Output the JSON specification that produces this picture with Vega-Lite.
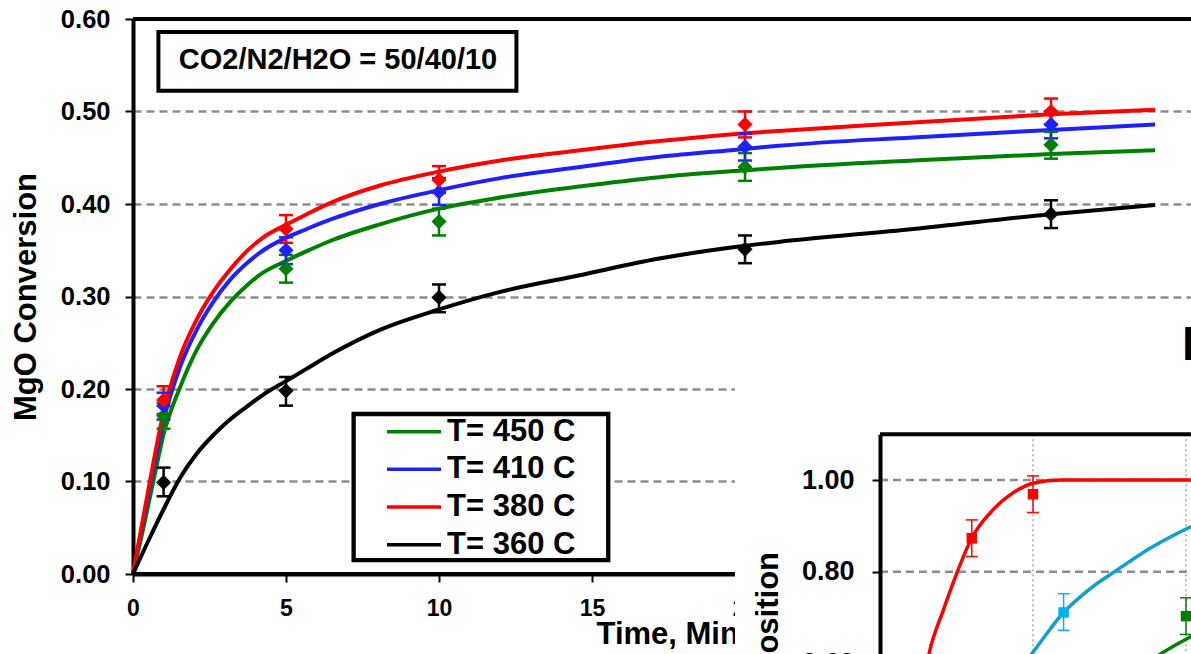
{
  "$schema": "https://vega.github.io/schema/vega-lite/v6.json",
  "width": 1058,
  "height": 555,
  "autosize": {"type": "none"},
  "padding": {"left": 133, "top": 19, "right": 0, "bottom": 80},
  "background": "white",
  "config": {
    "view": {"stroke": null},
    "font": "Liberation Sans",
    "axis": {"grid": false, "labelFont": "Liberation Sans", "labelFontWeight": "bold", "labelColor": "black", "titleFont": "Liberation Sans", "titleFontWeight": "bold", "titleColor": "black", "domainColor": "black", "tickColor": "black"},
    "text": {"font": "Liberation Sans"}
  },
  "datasets": {
    "curves": [
      {"s": "T= 450 C", "t": 0, "v": 0}, {"s": "T= 450 C", "t": 0.34, "v": 0.05}, {"s": "T= 450 C", "t": 0.67, "v": 0.101}, {"s": "T= 450 C", "t": 1.0, "v": 0.151}, {"s": "T= 450 C", "t": 1.54, "v": 0.202}, {"s": "T= 450 C", "t": 2.08, "v": 0.242}, {"s": "T= 450 C", "t": 2.62, "v": 0.271}, {"s": "T= 450 C", "t": 3.17, "v": 0.294}, {"s": "T= 450 C", "t": 3.72, "v": 0.312}, {"s": "T= 450 C", "t": 4.26, "v": 0.326}, {"s": "T= 450 C", "t": 4.97, "v": 0.338}, {"s": "T= 450 C", "t": 5.68, "v": 0.349}, {"s": "T= 450 C", "t": 6.44, "v": 0.36}, {"s": "T= 450 C", "t": 8.07, "v": 0.378}, {"s": "T= 450 C", "t": 10, "v": 0.395}, {"s": "T= 450 C", "t": 12, "v": 0.407}, {"s": "T= 450 C", "t": 14.6, "v": 0.419}, {"s": "T= 450 C", "t": 17.2, "v": 0.429}, {"s": "T= 450 C", "t": 19.8, "v": 0.436}, {"s": "T= 450 C", "t": 21.1, "v": 0.439}, {"s": "T= 450 C", "t": 25.5, "v": 0.447}, {"s": "T= 450 C", "t": 30, "v": 0.454}, {"s": "T= 450 C", "t": 33.4, "v": 0.458},
      {"s": "T= 410 C", "t": 0, "v": 0}, {"s": "T= 410 C", "t": 0.34, "v": 0.058}, {"s": "T= 410 C", "t": 0.67, "v": 0.114}, {"s": "T= 410 C", "t": 1.0, "v": 0.166}, {"s": "T= 410 C", "t": 1.54, "v": 0.224}, {"s": "T= 410 C", "t": 2.08, "v": 0.264}, {"s": "T= 410 C", "t": 2.62, "v": 0.294}, {"s": "T= 410 C", "t": 3.17, "v": 0.318}, {"s": "T= 410 C", "t": 3.72, "v": 0.336}, {"s": "T= 410 C", "t": 4.26, "v": 0.35}, {"s": "T= 410 C", "t": 4.97, "v": 0.363}, {"s": "T= 410 C", "t": 5.68, "v": 0.373}, {"s": "T= 410 C", "t": 6.44, "v": 0.383}, {"s": "T= 410 C", "t": 8.07, "v": 0.4}, {"s": "T= 410 C", "t": 10, "v": 0.415}, {"s": "T= 410 C", "t": 12, "v": 0.428}, {"s": "T= 410 C", "t": 14.6, "v": 0.44}, {"s": "T= 410 C", "t": 17.2, "v": 0.451}, {"s": "T= 410 C", "t": 19.8, "v": 0.459}, {"s": "T= 410 C", "t": 21.1, "v": 0.463}, {"s": "T= 410 C", "t": 25.5, "v": 0.472}, {"s": "T= 410 C", "t": 30, "v": 0.48}, {"s": "T= 410 C", "t": 33.4, "v": 0.486},
      {"s": "T= 380 C", "t": 0, "v": 0}, {"s": "T= 380 C", "t": 0.34, "v": 0.062}, {"s": "T= 380 C", "t": 0.67, "v": 0.121}, {"s": "T= 380 C", "t": 1.0, "v": 0.175}, {"s": "T= 380 C", "t": 1.54, "v": 0.235}, {"s": "T= 380 C", "t": 2.08, "v": 0.275}, {"s": "T= 380 C", "t": 2.62, "v": 0.305}, {"s": "T= 380 C", "t": 3.17, "v": 0.329}, {"s": "T= 380 C", "t": 3.72, "v": 0.349}, {"s": "T= 380 C", "t": 4.26, "v": 0.364}, {"s": "T= 380 C", "t": 4.97, "v": 0.377}, {"s": "T= 380 C", "t": 5.68, "v": 0.389}, {"s": "T= 380 C", "t": 6.44, "v": 0.401}, {"s": "T= 380 C", "t": 8.07, "v": 0.42}, {"s": "T= 380 C", "t": 10, "v": 0.435}, {"s": "T= 380 C", "t": 12, "v": 0.447}, {"s": "T= 380 C", "t": 14.6, "v": 0.458}, {"s": "T= 380 C", "t": 17.2, "v": 0.468}, {"s": "T= 380 C", "t": 19.8, "v": 0.476}, {"s": "T= 380 C", "t": 21.1, "v": 0.479}, {"s": "T= 380 C", "t": 25.5, "v": 0.488}, {"s": "T= 380 C", "t": 30, "v": 0.497}, {"s": "T= 380 C", "t": 33.4, "v": 0.502},
      {"s": "T= 360 C", "t": 0, "v": 0}, {"s": "T= 360 C", "t": 0.56, "v": 0.04}, {"s": "T= 360 C", "t": 1.0, "v": 0.07}, {"s": "T= 360 C", "t": 1.54, "v": 0.104}, {"s": "T= 360 C", "t": 2.08, "v": 0.13}, {"s": "T= 360 C", "t": 2.62, "v": 0.15}, {"s": "T= 360 C", "t": 3.17, "v": 0.167}, {"s": "T= 360 C", "t": 3.72, "v": 0.181}, {"s": "T= 360 C", "t": 4.26, "v": 0.194}, {"s": "T= 360 C", "t": 4.97, "v": 0.208}, {"s": "T= 360 C", "t": 5.68, "v": 0.222}, {"s": "T= 360 C", "t": 6.44, "v": 0.237}, {"s": "T= 360 C", "t": 8.07, "v": 0.264}, {"s": "T= 360 C", "t": 10, "v": 0.286}, {"s": "T= 360 C", "t": 12, "v": 0.305}, {"s": "T= 360 C", "t": 14.6, "v": 0.323}, {"s": "T= 360 C", "t": 17.2, "v": 0.341}, {"s": "T= 360 C", "t": 19.8, "v": 0.354}, {"s": "T= 360 C", "t": 21.1, "v": 0.359}, {"s": "T= 360 C", "t": 25.5, "v": 0.373}, {"s": "T= 360 C", "t": 30, "v": 0.389}, {"s": "T= 360 C", "t": 33.4, "v": 0.399}
    ],
    "pts": [
      {"s": "T= 450 C", "t": 1, "v": 0.171, "lo": 0.157, "hi": 0.185}, {"s": "T= 450 C", "t": 5, "v": 0.33, "lo": 0.315, "hi": 0.345}, {"s": "T= 450 C", "t": 10, "v": 0.381, "lo": 0.366, "hi": 0.395}, {"s": "T= 450 C", "t": 20, "v": 0.44, "lo": 0.425, "hi": 0.455}, {"s": "T= 450 C", "t": 30, "v": 0.464, "lo": 0.449, "hi": 0.478},
      {"s": "T= 410 C", "t": 1, "v": 0.182, "lo": 0.167, "hi": 0.196}, {"s": "T= 410 C", "t": 5, "v": 0.35, "lo": 0.335, "hi": 0.364}, {"s": "T= 410 C", "t": 10, "v": 0.413, "lo": 0.399, "hi": 0.428}, {"s": "T= 410 C", "t": 20, "v": 0.462, "lo": 0.447, "hi": 0.476}, {"s": "T= 410 C", "t": 30, "v": 0.486, "lo": 0.471, "hi": 0.5},
      {"s": "T= 380 C", "t": 1, "v": 0.188, "lo": 0.173, "hi": 0.203}, {"s": "T= 380 C", "t": 5, "v": 0.373, "lo": 0.358, "hi": 0.388}, {"s": "T= 380 C", "t": 10, "v": 0.426, "lo": 0.412, "hi": 0.441}, {"s": "T= 380 C", "t": 20, "v": 0.486, "lo": 0.472, "hi": 0.5}, {"s": "T= 380 C", "t": 30, "v": 0.5, "lo": 0.486, "hi": 0.514},
      {"s": "T= 360 C", "t": 1, "v": 0.099, "lo": 0.084, "hi": 0.115}, {"s": "T= 360 C", "t": 5, "v": 0.198, "lo": 0.182, "hi": 0.213}, {"s": "T= 360 C", "t": 10, "v": 0.299, "lo": 0.283, "hi": 0.313}, {"s": "T= 360 C", "t": 20, "v": 0.351, "lo": 0.336, "hi": 0.366}, {"s": "T= 360 C", "t": 30, "v": 0.389, "lo": 0.374, "hi": 0.404}
    ],
    "icurves": [
      {"s": "a", "u": 0.28, "v": 0.55}, {"s": "a", "u": 0.32, "v": 0.62}, {"s": "a", "u": 0.414, "v": 0.716}, {"s": "a", "u": 0.501, "v": 0.796}, {"s": "a", "u": 0.599, "v": 0.873}, {"s": "a", "u": 0.719, "v": 0.928}, {"s": "a", "u": 0.869, "v": 0.972}, {"s": "a", "u": 1.0, "v": 0.993}, {"s": "a", "u": 1.18, "v": 1.0}, {"s": "a", "u": 2.1, "v": 1.0}, {"s": "a", "u": 3.0, "v": 1.0},
      {"s": "b", "u": 0.85, "v": 0.56}, {"s": "b", "u": 0.99, "v": 0.62}, {"s": "b", "u": 1.2, "v": 0.711}, {"s": "b", "u": 1.37, "v": 0.762}, {"s": "b", "u": 1.547, "v": 0.803}, {"s": "b", "u": 1.765, "v": 0.851}, {"s": "b", "u": 2.03, "v": 0.898}, {"s": "b", "u": 2.1, "v": 0.909},
      {"s": "c", "u": 1.6, "v": 0.57}, {"s": "c", "u": 1.83, "v": 0.62}, {"s": "c", "u": 2.03, "v": 0.658}, {"s": "c", "u": 2.1, "v": 0.67}
    ],
    "ipts": [
      {"s": "a", "u": 0.6, "v": 0.873, "lo": 0.833, "hi": 0.913}, {"s": "a", "u": 1.0, "v": 0.969, "lo": 0.929, "hi": 1.009},
      {"s": "b", "u": 1.2, "v": 0.711, "lo": 0.672, "hi": 0.752},
      {"s": "c", "u": 2.0, "v": 0.703, "lo": 0.663, "hi": 0.743}
    ]
  },
  "layer": [
    {
      "layer": [
        {
          "data": {"name": "curves"},
          "mark": {"type": "line", "strokeWidth": 4, "interpolate": "monotone"},
          "encoding": {
            "x": {"field": "t", "type": "quantitative", "scale": {"domain": [0, 34.575], "nice": false, "zero": false},
              "axis": {"values": [0, 5, 10, 15, 20, 25, 30], "grid": false, "domainWidth": 4, "tickSize": 8, "tickWidth": 2, "labelFontSize": 23, "labelPadding": 15, "labelFlush": false, "title": "Time, Min", "titleFontSize": 31, "titleX": 463, "titleY": 69.5, "titleAlign": "left", "titleBaseline": "alphabetic"}},
            "y": {"field": "v", "type": "quantitative", "scale": {"domain": [0, 0.6], "nice": false, "zero": false},
              "axis": {"values": [0, 0.1, 0.2, 0.3, 0.4, 0.5, 0.6], "format": ".2f", "grid": true, "gridColor": "#8c8c8c", "gridDash": [8, 5], "gridWidth": 2.5, "domainWidth": 4, "tickSize": 8, "tickWidth": 2, "labelFontSize": 25.5, "labelPadding": 15, "labelFlush": false, "title": "MgO Conversion", "titleFontSize": 31, "titleX": -97.8, "titleBaseline": "alphabetic"}},
            "color": {"field": "s", "type": "nominal",
              "scale": {"domain": ["T= 450 C", "T= 410 C", "T= 380 C", "T= 360 C"], "range": ["#008000", "#2020ff", "#ff0000", "#000000"]},
              "legend": {"orient": "none", "legendX": 252, "legendY": 397.7, "padding": 0, "title": null, "symbolType": "stroke", "symbolSize": 2916, "symbolStrokeWidth": 3.5, "clipHeight": 30, "rowPadding": 6.67, "labelOffset": 4, "labelFontSize": 31, "labelFontWeight": "bold", "labelFont": "Liberation Sans", "labelColor": "black", "labelLimit": 400}}
          }
        },
        {
          "data": {"name": "pts"},
          "mark": {"type": "rule", "strokeWidth": 2.5},
          "encoding": {
            "x": {"field": "t", "type": "quantitative"},
            "y": {"field": "lo", "type": "quantitative"},
            "y2": {"field": "hi"},
            "stroke": {"field": "s", "type": "nominal", "scale": {"domain": ["T= 450 C", "T= 410 C", "T= 380 C", "T= 360 C"], "range": ["#008000", "#2020ff", "#ff0000", "#000000"]}, "legend": null}
          }
        },
        {
          "data": {"name": "pts"},
          "mark": {"type": "tick", "orient": "horizontal", "size": 14, "thickness": 2.5, "opacity": 1, "filled": true},
          "encoding": {
            "x": {"field": "t", "type": "quantitative"},
            "y": {"field": "lo", "type": "quantitative"},
            "fill": {"field": "s", "type": "nominal", "scale": {"domain": ["T= 450 C", "T= 410 C", "T= 380 C", "T= 360 C"], "range": ["#008000", "#2020ff", "#ff0000", "#000000"]}, "legend": null}
          }
        },
        {
          "data": {"name": "pts"},
          "mark": {"type": "tick", "orient": "horizontal", "size": 14, "thickness": 2.5, "opacity": 1, "filled": true},
          "encoding": {
            "x": {"field": "t", "type": "quantitative"},
            "y": {"field": "hi", "type": "quantitative"},
            "fill": {"field": "s", "type": "nominal", "legend": null}
          }
        },
        {
          "data": {"name": "pts"},
          "mark": {"type": "point", "shape": "diamond", "filled": true, "size": 230, "opacity": 1, "strokeWidth": 0},
          "encoding": {
            "x": {"field": "t", "type": "quantitative"},
            "y": {"field": "v", "type": "quantitative"},
            "fill": {"field": "s", "type": "nominal", "legend": null}
          }
        },
        {
          "data": {"values": [{}]},
          "mark": {"type": "rule", "strokeWidth": 4, "color": "black"},
          "encoding": {"y": {"datum": 0.6, "type": "quantitative"}}
        },
        {
          "data": {"values": [{}]},
          "mark": {"type": "rule", "strokeWidth": 4, "color": "black"},
          "encoding": {"y": {"datum": 0, "type": "quantitative"}}
        },
        {
          "data": {"values": [{}]},
          "mark": {"type": "rect", "fill": "white", "stroke": "black", "strokeWidth": 4},
          "encoding": {"x": {"datum": 0.83, "type": "quantitative"}, "x2": {"datum": 12.53}, "y": {"datum": 0.586, "type": "quantitative"}, "y2": {"datum": 0.5224}}
        },
        {
          "data": {"values": [{"note": "CO2/N2/H2O = 50/40/10"}]},
          "mark": {"type": "text", "fontSize": 29, "fontWeight": "bold", "align": "center", "baseline": "middle", "color": "black"},
          "encoding": {"x": {"datum": 6.7, "type": "quantitative"}, "y": {"datum": 0.556, "type": "quantitative"}, "text": {"field": "note"}}
        },
        {
          "data": {"values": [{}]},
          "mark": {"type": "rect", "fill": "white", "stroke": "black", "strokeWidth": 4.3},
          "encoding": {"x": {"datum": 7.21, "type": "quantitative"}, "x2": {"datum": 15.53}, "y": {"datum": 0.173, "type": "quantitative"}, "y2": {"datum": 0.0151}}
        }
      ]
    },
    {
      "layer": [
        {
          "data": {"values": [{}]},
          "mark": {"type": "rect", "fill": "white"},
          "encoding": {
            "x": {"datum": -0.948, "type": "quantitative", "scale": {"domain": [0, 3], "range": [747, 1206], "nice": false, "zero": false}, "axis": null},
            "x2": {"datum": 3.3},
            "y": {"datum": 1.371, "type": "quantitative", "scale": {"domain": [0, 1.1], "range": [919.3, 415.2], "nice": false, "zero": false},
              "axis": {"orient": "left", "offset": -747, "zindex": 1, "values": [0, 0.2, 0.4, 0.6, 0.8, 1.0], "format": ".2f", "grid": false, "domainWidth": 4, "tickSize": 8, "tickWidth": 2, "labelFontSize": 27, "labelPadding": 18, "labelFlush": false, "title": null}},
            "y2": {"datum": -0.5}
          }
        },
        {
          "data": {"values": [{}]},
          "mark": {"type": "rule", "strokeWidth": 2.5, "color": "#8c8c8c", "strokeDash": [8, 5]},
          "encoding": {"x": {"datum": 0, "type": "quantitative", "axis": null}, "x2": {"datum": 3.3}, "y": {"datum": 1.0, "type": "quantitative"}}
        },
        {
          "data": {"values": [{}]},
          "mark": {"type": "rule", "strokeWidth": 2.5, "color": "#8c8c8c", "strokeDash": [8, 5]},
          "encoding": {"x": {"datum": 0, "type": "quantitative", "axis": null}, "x2": {"datum": 3.3}, "y": {"datum": 0.8, "type": "quantitative"}}
        },
        {
          "data": {"values": [{}]},
          "mark": {"type": "rule", "strokeWidth": 2.5, "color": "#8c8c8c", "strokeDash": [8, 5]},
          "encoding": {"x": {"datum": 0, "type": "quantitative", "axis": null}, "x2": {"datum": 3.3}, "y": {"datum": 0.6, "type": "quantitative"}}
        },
        {
          "data": {"values": [{}]},
          "mark": {"type": "rule", "strokeWidth": 1.5, "color": "#a6a6a6", "strokeDash": [2, 3]},
          "encoding": {"x": {"datum": 1, "type": "quantitative", "axis": null}, "y": {"datum": 1.1, "type": "quantitative"}, "y2": {"datum": 0}}
        },
        {
          "data": {"values": [{}]},
          "mark": {"type": "rule", "strokeWidth": 1.5, "color": "#a6a6a6", "strokeDash": [2, 3]},
          "encoding": {"x": {"datum": 2, "type": "quantitative", "axis": null}, "y": {"datum": 1.1, "type": "quantitative"}, "y2": {"datum": 0}}
        },
        {
          "data": {"values": [{}]},
          "mark": {"type": "rule", "strokeWidth": 4, "color": "black"},
          "encoding": {"x": {"datum": 0, "type": "quantitative", "axis": null}, "x2": {"datum": 3.3}, "y": {"datum": 1.1, "type": "quantitative"}}
        },
        {
          "data": {"name": "icurves"},
          "mark": {"type": "line", "strokeWidth": 3.5, "interpolate": "monotone"},
          "encoding": {
            "x": {"field": "u", "type": "quantitative", "axis": null},
            "y": {"field": "v", "type": "quantitative"},
            "color": {"field": "s", "type": "nominal", "scale": {"domain": ["a", "b", "c"], "range": ["#ff0000", "#0fa0d2", "#008000"]}, "legend": null}
          }
        },
        {
          "data": {"name": "ipts"},
          "mark": {"type": "rule", "strokeWidth": 1.5},
          "encoding": {
            "x": {"field": "u", "type": "quantitative", "axis": null},
            "y": {"field": "lo", "type": "quantitative"},
            "y2": {"field": "hi"},
            "stroke": {"field": "s", "type": "nominal", "scale": {"domain": ["a", "b", "c"], "range": ["#ff0000", "#00b0f0", "#008000"]}, "legend": null}
          }
        },
        {
          "data": {"name": "ipts"},
          "mark": {"type": "tick", "orient": "horizontal", "size": 12, "thickness": 1.5, "opacity": 1, "filled": true},
          "encoding": {
            "x": {"field": "u", "type": "quantitative", "axis": null},
            "y": {"field": "lo", "type": "quantitative"},
            "fill": {"field": "s", "type": "nominal", "scale": {"domain": ["a", "b", "c"], "range": ["#ff0000", "#00b0f0", "#008000"]}, "legend": null}
          }
        },
        {
          "data": {"name": "ipts"},
          "mark": {"type": "tick", "orient": "horizontal", "size": 12, "thickness": 1.5, "opacity": 1, "filled": true},
          "encoding": {
            "x": {"field": "u", "type": "quantitative", "axis": null},
            "y": {"field": "hi", "type": "quantitative"},
            "fill": {"field": "s", "type": "nominal", "legend": null}
          }
        },
        {
          "data": {"name": "ipts"},
          "mark": {"type": "point", "shape": "square", "filled": true, "size": 110, "opacity": 1, "strokeWidth": 0},
          "encoding": {
            "x": {"field": "u", "type": "quantitative", "axis": null},
            "y": {"field": "v", "type": "quantitative"},
            "fill": {"field": "s", "type": "nominal", "legend": null}
          }
        },
        {
          "data": {"values": [{"title": "Decomposition"}]},
          "mark": {"type": "text", "fontSize": 31, "fontWeight": "bold", "angle": 270, "align": "right", "baseline": "alphabetic", "color": "black"},
          "encoding": {"x": {"datum": -0.667, "type": "quantitative", "axis": null}, "y": {"datum": 0.843, "type": "quantitative"}, "text": {"field": "title"}}
        },
        {
          "data": {"values": [{"head": "I"}]},
          "mark": {"type": "text", "fontSize": 48, "fontWeight": "bold", "align": "left", "baseline": "alphabetic", "color": "black"},
          "encoding": {"x": {"datum": 1.974, "type": "quantitative", "axis": null}, "y": {"datum": 1.262, "type": "quantitative"}, "text": {"field": "head"}}
        }
      ]
    }
  ],
  "resolve": {"scale": {"x": "independent", "y": "independent", "color": "independent", "fill": "independent", "stroke": "independent"}}
}
